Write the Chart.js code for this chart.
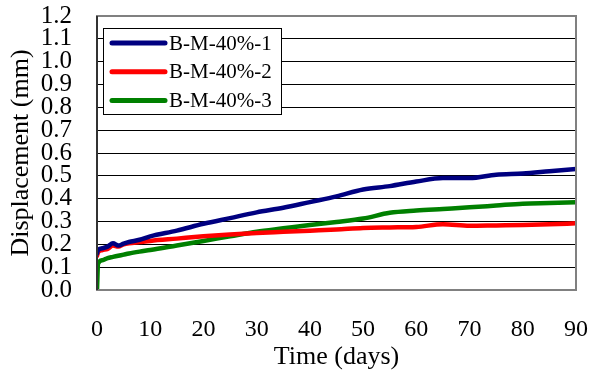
<!DOCTYPE html>
<html>
<head>
<meta charset="utf-8">
<script src="https://cdn.jsdelivr.net/npm/chart.js@4/dist/chart.umd.min.js"></script>
<style>
  html, body { margin: 0; padding: 0; background: #fff; }
  #wrap { width: 590px; height: 374px; }
</style>
</head>
<body>
<div id="wrap"><canvas id="chart" width="590" height="374"></canvas></div>
<script>
// time axis (days)
const days = [0, 0.2, 1, 2, 3, 4, 5, 6, 8, 10, 15, 20, 25, 30, 35, 40, 45, 50, 55, 60, 65, 70, 75, 80, 85, 90];

// displacement (mm)
const bm40_1 = [0.16, 0.175, 0.183, 0.19, 0.205, 0.195, 0.203, 0.21, 0.22, 0.235, 0.26, 0.29, 0.315, 0.34, 0.36, 0.385, 0.41, 0.44, 0.455, 0.475, 0.49, 0.49, 0.505, 0.51, 0.52, 0.53];
const bm40_2 = [0.15, 0.165, 0.175, 0.18, 0.195, 0.19, 0.2, 0.205, 0.21, 0.215, 0.225, 0.235, 0.243, 0.25, 0.255, 0.26, 0.265, 0.272, 0.274, 0.276, 0.288, 0.281, 0.283, 0.285, 0.288, 0.292];
const bm40_3 = [0.0, 0.115, 0.13, 0.14, 0.145, 0.15, 0.155, 0.16, 0.168, 0.175, 0.195, 0.215, 0.235, 0.255, 0.27, 0.285, 0.298, 0.313, 0.338, 0.348, 0.355, 0.362, 0.37, 0.378, 0.381, 0.384];

const seriesNames = ["B-M-40%-1", "B-M-40%-2", "B-M-40%-3"];
const seriesColors = ["#000080", "#ff0000", "#008000"];

const serif = "'Liberation Serif', 'Times New Roman', serif";

const toPoints = (vals) => days.map((d, i) => ({ x: d, y: vals[i] }));

// legend box drawn inside the plot, like the original
const boxLegend = {
  id: "boxLegend",
  afterDatasetsDraw(chart) {
    const { ctx } = chart;
    const x = 103.5, y = 28.5, w = 178, h = 86;
    ctx.save();
    ctx.fillStyle = "#fff";
    ctx.fillRect(x, y, w, h);
    ctx.strokeStyle = "#000";
    ctx.lineWidth = 1;
    ctx.strokeRect(x, y, w, h);
    ctx.font = "21px " + serif;
    ctx.textBaseline = "middle";
    ctx.textAlign = "left";
    chart.data.datasets.forEach((ds, i) => {
      const cy = y + 14.5 + i * 28.7;
      ctx.strokeStyle = ds.borderColor;
      ctx.lineWidth = 5;
      ctx.lineCap = "round";
      ctx.beginPath();
      ctx.moveTo(112, cy);
      ctx.lineTo(165, cy);
      ctx.stroke();
      ctx.fillStyle = "#000";
      ctx.fillText(ds.label, 169, cy + 1);
    });
    ctx.restore();
  },
};

// plot frame
const frame = {
  id: "frame",
  afterDatasetsDraw(chart) {
    const { ctx, chartArea: a } = chart;
    ctx.save();
    ctx.strokeStyle = "#808080";
    ctx.lineWidth = 2;
    ctx.strokeRect(a.left, a.top, a.right - a.left, a.bottom - a.top);
    ctx.strokeStyle = "#333";
    ctx.beginPath();
    ctx.moveTo(a.left, a.top);
    ctx.lineTo(a.left, a.bottom);
    ctx.stroke();
    ctx.restore();
  },
};

new Chart(document.getElementById("chart"), {
  type: "line",
  data: {
    datasets: [bm40_1, bm40_2, bm40_3].map((vals, i) => ({
      label: seriesNames[i],
      data: toPoints(vals),
      borderColor: seriesColors[i],
      backgroundColor: seriesColors[i],
      borderWidth: 4.5,
      pointRadius: 0,
      tension: 0.3,
      cubicInterpolationMode: "monotone",
      borderCapStyle: "round",
    })),
  },
  options: {
    responsive: false,
    animation: false,
    layout: { padding: { top: 16, right: 14, left: 0, bottom: 0 } },
    plugins: { legend: { display: false }, tooltip: { enabled: false } },
    scales: {
      x: {
        type: "linear",
        min: 0,
        max: 90,
        afterFit: (s) => { s.height = 84; s.paddingLeft = 0; s.paddingRight = 0; },
        grid: { display: false, drawTicks: false },
        border: { display: false },
        ticks: { stepSize: 10, padding: 25, color: "#000", font: { family: serif, size: 24 }, maxRotation: 0 },
        title: { display: true, text: "Time (days)", color: "#000", font: { family: serif, size: 26 }, padding: { top: 0, bottom: 1 } },
      },
      y: {
        min: 0,
        max: 1.2,
        afterFit: (s) => { s.width = 97; s.paddingTop = 0; s.paddingBottom = 0; },
        grid: { color: "#000", lineWidth: 1, drawTicks: false },
        border: { display: false },
        ticks: {
          stepSize: 0.1,
          autoSkip: false,
          padding: 25,
          color: "#000",
          font: { family: serif, size: 25 },
          callback: (v) => v.toFixed(1),
        },
        title: { display: true, text: "Displacement (mm)", color: "#000", font: { family: serif, size: 26 }, padding: { top: 6, bottom: 0 } },
      },
    },
  },
  plugins: [frame, boxLegend],
});
</script>
</body>
</html>
